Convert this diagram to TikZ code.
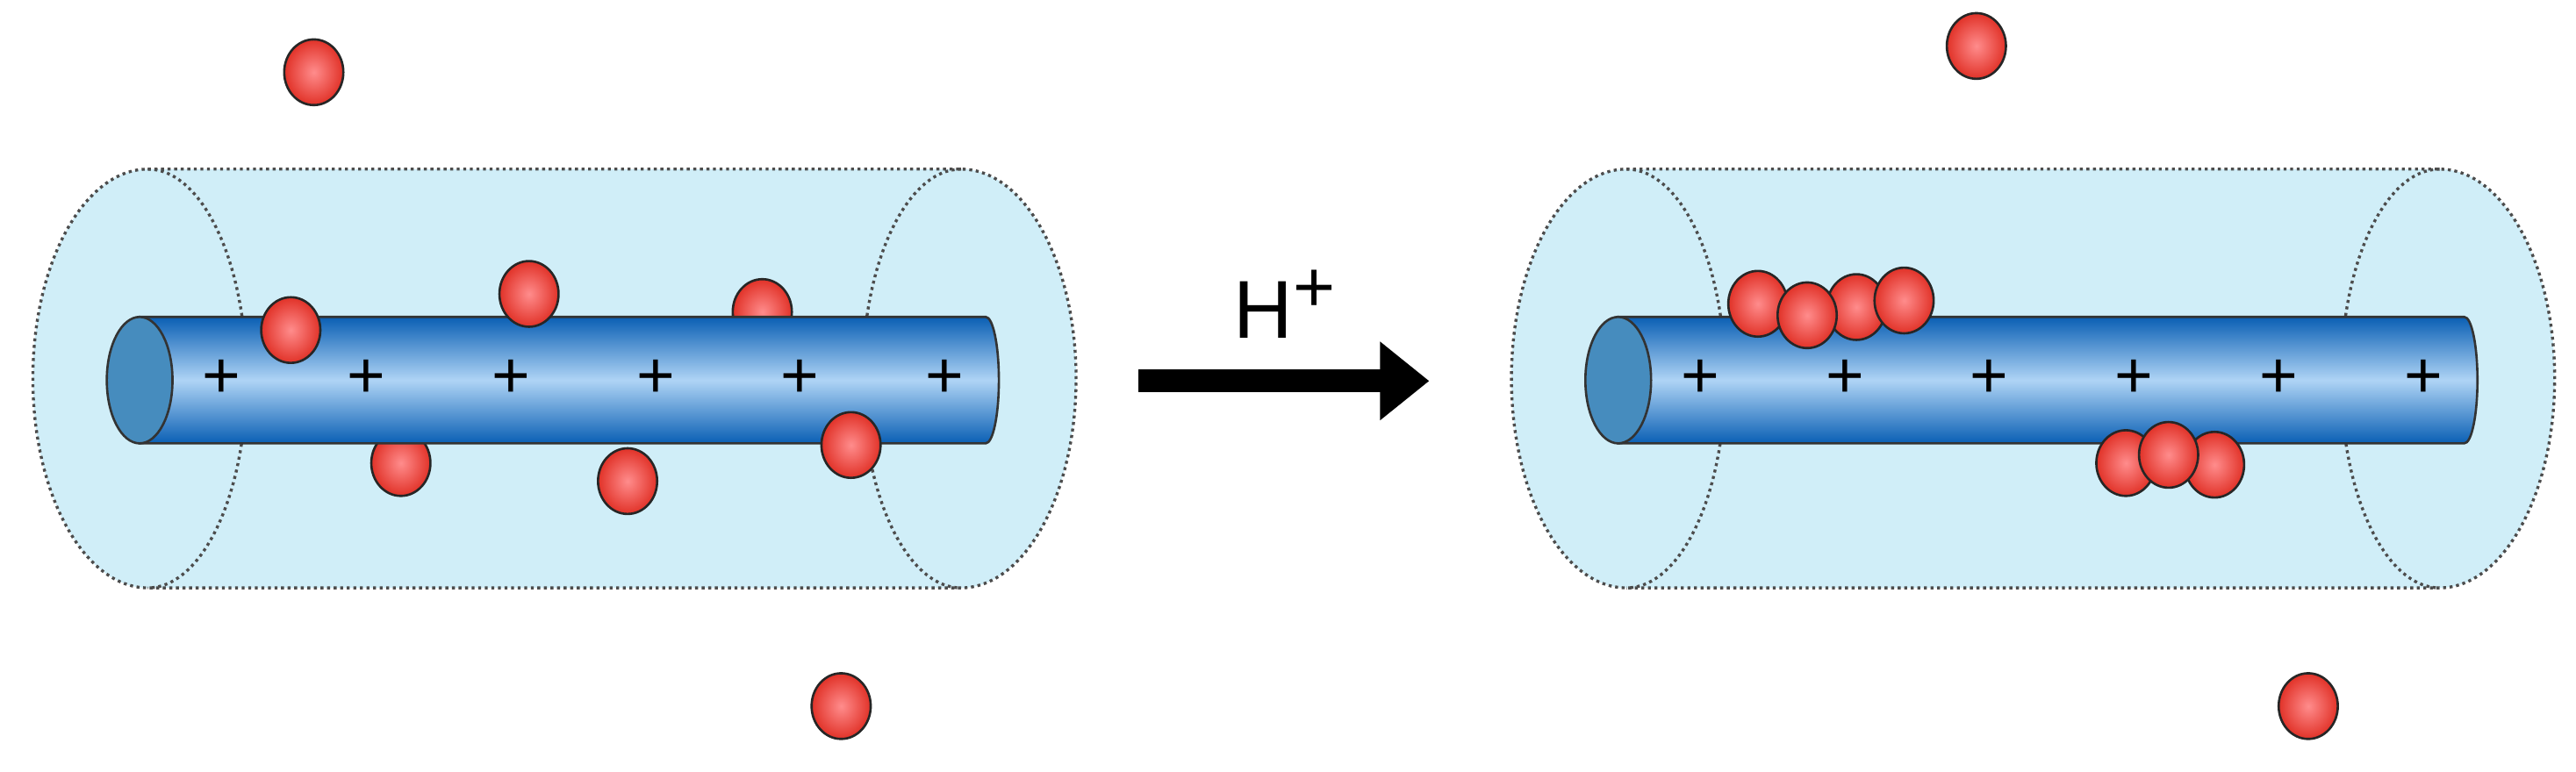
\documentclass[tikz,border=0pt]{standalone}
\usepackage{fontspec}
\setmainfont{Liberation Sans}
\usetikzlibrary{shapes.geometric,arrows.meta}
\begin{document}
\begin{tikzpicture}[x=1pt,y=1pt]
\definecolor{sheath}{RGB}{208,238,248}
\definecolor{tubedark}{RGB}{10,95,180}
\definecolor{tubelight}{RGB}{175,212,245}
\definecolor{capcol}{RGB}{70,140,190}
\definecolor{ballred}{RGB}{225,50,40}
\tikzset{
  ball/.style={ellipse,draw=black!85,line width=1.4pt,minimum width=36pt,minimum height=40pt,inner sep=0pt,
     inner color=red!45!white, outer color=ballred},
  plussign/.style={font=\fontsize{40}{40}\selectfont},
  dotline/.style={dash pattern=on 1.8pt off 2.2pt,line width=1.8pt,black!70}
}
\useasboundingbox (0,-470) rectangle (1568,0);
\foreach \dx in {0,900}{
\begin{scope}[xshift=\dx]
  \fill[sheath] (90,-103) -- (585,-103) arc[start angle=90,end angle=-90,x radius=70,y radius=127.5] -- (90,-358) arc[start angle=270,end angle=90,x radius=70,y radius=127.5] -- cycle;
  \draw[dotline] (90,-103) -- (585,-103) arc[start angle=90,end angle=-90,x radius=70,y radius=127.5] -- (90,-358) arc[start angle=270,end angle=90,x radius=70,y radius=127.5];
  \draw[dotline] (90,-103) arc[start angle=90,end angle=-90,x radius=60,y radius=127.5];
  \draw[dotline] (585,-103) arc[start angle=90,end angle=270,x radius=60,y radius=127.5];
\end{scope}}
\node[ball] (bl1) at (464,-190) {};
\node[ball] (bl2) at (244,-282) {};
\foreach \dx in {0,900}{
\begin{scope}[xshift=\dx]
  \shade[top color=tubedark,bottom color=tubedark,middle color=tubelight,draw=black!80,line width=1.4pt]
    (85,-193) -- (600,-193) arc[start angle=90,end angle=-90,x radius=8,y radius=38.5] -- (85,-270) -- cycle;
  \fill[capcol,draw=black!80,line width=1.4pt] (85,-231.5) ellipse[x radius=20,y radius=38.5];
  \foreach \px in {135,223,311,399,487,575}{\node[plussign] at (\px,-231) {+};}
\end{scope}}
\node[ball] (f1) at (177,-201) {};
\node[ball] (f2) at (322,-179) {};
\node[ball] (f3) at (382,-293) {};
\node[ball] (f4) at (518,-271) {};
\node[ball] (free1) at (191,-44) {};
\node[ball] (free2) at (512,-430) {};
\node[ball] (r1) at (1070,-185) {};
\node[ball] (r2) at (1130,-187) {};
\node[ball] (r3) at (1159,-183) {};
\node[ball] (r4) at (1100,-192) {};
\node[ball] (r5) at (1294,-282) {};
\node[ball] (r6) at (1348,-283) {};
\node[ball] (r7) at (1320,-277) {};
\node[ball] (free3) at (1203,-28) {};
\node[ball] (free4) at (1405,-430) {};
\coordinate (a0) at (693,-232);
\coordinate (a1) at (870,-232);
\draw[line width=14pt,-{Triangle[length=30pt,width=46pt]}] (a0) -- (a1);
\node[font=\fontsize{50}{50}\selectfont] (hp) at (782,-185) {H\raisebox{16pt}{\fontsize{44}{44}\selectfont +}};
\end{tikzpicture}
\end{document}
